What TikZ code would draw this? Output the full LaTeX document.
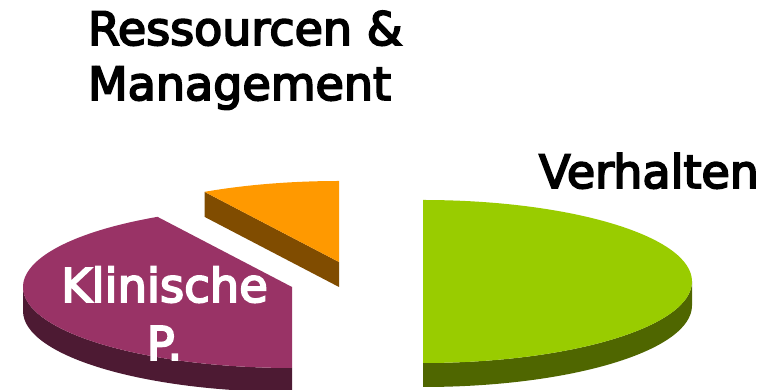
\documentclass[tikz,border=0pt]{standalone}
\usepackage{fontspec}
\setmainfont{DejaVu Sans}
\newfontfamily\lblfont{DejaVu Sans}[FakeBold=4]
\usetikzlibrary{calc}
\definecolor{gtop}{HTML}{99CC00}
\definecolor{gside}{HTML}{4F6600}
\definecolor{ptop}{HTML}{993366}
\definecolor{pside}{HTML}{4D1A33}
\definecolor{otop}{HTML}{FF9900}
\definecolor{oside}{HTML}{804C00}
\tikzset{
  lbl/.style={inner sep=0pt, outer sep=0pt, font=\lblfont\fontsize{46}{55}\selectfont, text=black},
  wlbl/.style={lbl, text=white, font=\lblfont\fontsize{46.5}{58}\selectfont},
}
\begin{document}
\begin{tikzpicture}[x=1pt,y=1pt]
\useasboundingbox (0,0) rectangle (774,390);
% ---- orange slice (Ressourcen & Management)
\coordinate (oc) at (339,128);
\fill[oside] (oc) -- ++(120:269 and 81) -- ++(0,-25) -- ($(oc)+(0,-25)$) -- cycle;
\fill[otop] (oc) -- ++(0,81) arc[start angle=90,end angle=120,x radius=269,y radius=81] -- cycle;
% ---- green slice (Verhalten)
\coordinate (gc) at (423,108.5);
\fill[gside] ($(gc)+(0,-81.5)$) arc[start angle=-90,end angle=0,x radius=269,y radius=81.5]
   -- ++(0,-24) arc[start angle=0,end angle=-90,x radius=269,y radius=81.5] -- cycle;
\fill[gtop] (gc) -- ++(0,-81.5) arc[start angle=-90,end angle=90,x radius=269,y radius=81.5] -- cycle;
% ---- purple slice (Klinische P.)
\coordinate (pc) at (292,103);
\fill[pside] ($(pc)+(-269,0)$) arc[start angle=180,end angle=270,x radius=269,y radius=81]
   -- ++(0,-24) arc[start angle=270,end angle=180,x radius=269,y radius=81] -- cycle;
\fill[ptop] (pc) -- ++(120:269 and 81) arc[start angle=120,end angle=270,x radius=269,y radius=81] -- cycle;
% ---- labels (base anchor = baseline of last line)
\node[lbl, anchor=base west] (verh) at (539,202) {Verhalten};
\node[lbl, anchor=base west, align=left] (ress) at (88,290) {Ressourcen \&\\Management};
\node[wlbl, anchor=base, align=center] (klin) at (164.5,30) {Klinische\\P.};
\end{tikzpicture}
\end{document}
